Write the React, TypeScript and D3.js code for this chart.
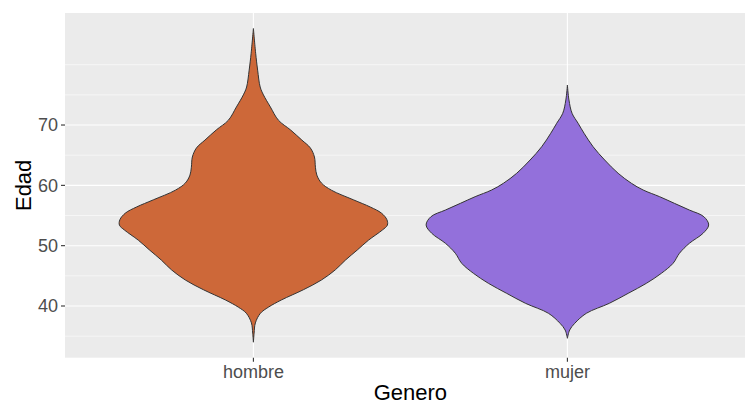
import React from "react";
import * as d3 from "d3";

const categories = ["hombre", "mujer"];
const fills = ["#CD6839", "#9370DB"];
const yTicks = [40, 50, 60, 70];
const yMinor = [35, 45, 55, 65, 75, 80];

// relative density (half-width as a fraction of the widest violin) by age
const hombreAge = [86.0, 81.9, 79.1, 76.3, 75.0, 73.0, 70.8, 69.2, 67.5, 66.2, 64.7, 63.0, 61.7, 60.4, 59.2, 57.6, 56.4, 55.4, 54.3, 53.4, 52.6, 50.9, 49.3, 47.6, 46.0, 44.3, 42.7, 41.0, 39.8, 38.8, 37.2, 35.5, 34.0];
const hombreDens = [0, 0.016, 0.030, 0.048, 0.071, 0.120, 0.177, 0.262, 0.343, 0.403, 0.432, 0.439, 0.449, 0.481, 0.552, 0.708, 0.828, 0.906, 0.945, 0.948, 0.913, 0.814, 0.736, 0.651, 0.580, 0.481, 0.354, 0.198, 0.106, 0.050, 0.014, 0.005, 0];
const mujerAge = [76.63, 74.15, 71.94, 70.28, 68.63, 66.40, 64.20, 62.0, 60.34, 59.23, 58.12, 57.02, 55.91, 54.80, 53.43, 52.05, 50.39, 48.74, 47.08, 45.42, 43.76, 42.10, 40.45, 38.79, 37.13, 36.02, 34.65];
const mujerDens = [0, 0.011, 0.033, 0.076, 0.118, 0.182, 0.264, 0.359, 0.453, 0.536, 0.653, 0.757, 0.863, 0.966, 1.0, 0.960, 0.863, 0.793, 0.748, 0.665, 0.559, 0.430, 0.297, 0.134, 0.052, 0.016, 0];

const W = 745;
const H = 403;
const panel = { left: 65, top: 13, bottom: 357.7, right: 745 };
const font = "'Liberation Sans', Arial, Helvetica, sans-serif";

export default function App() {
  const x = d3.scaleLinear().domain([0.4, 2.6]).range([65, 755.8]);
  const y = d3.scaleLinear().domain([31.43, 88.57]).range([panel.bottom, panel.top]);
  const unit = x(2) - x(1);
  const maxHW = 0.45 * unit;

  const series = [
    { age: hombreAge, dens: hombreDens },
    { age: mujerAge, dens: mujerDens },
  ];

  const violins = series.map((s, i) => {
    const cx = x(i + 1);
    const pts = s.age.map((a, j) => ({ a, d: s.dens[j] }));
    const area = d3
      .area<{ a: number; d: number }>()
      .y((p) => y(p.a))
      .x0((p) => cx - p.d * maxHW)
      .x1((p) => cx + p.d * maxHW)
      .curve(d3.curveCatmullRom.alpha(0.5));
    return area(pts) || "";
  });

  return (
    <svg
      width={W}
      height={H}
      style={{ position: "absolute", left: 0, top: 0, display: "block", background: "#fff" }}
    >
      <rect
        x={panel.left}
        y={panel.top}
        width={panel.right - panel.left}
        height={panel.bottom - panel.top}
        fill="#EBEBEB"
      />
      {yMinor.map((v) => (
        <line key={"mn" + v} x1={panel.left} x2={panel.right} y1={y(v)} y2={y(v)} stroke="#fff" strokeWidth={0.55} />
      ))}
      {yTicks.map((v) => (
        <line key={"mj" + v} x1={panel.left} x2={panel.right} y1={y(v)} y2={y(v)} stroke="#fff" strokeWidth={1.1} />
      ))}
      {categories.map((c, i) => (
        <line key={"vx" + c} x1={x(i + 1)} x2={x(i + 1)} y1={panel.top} y2={panel.bottom} stroke="#fff" strokeWidth={1.1} />
      ))}
      {violins.map((d, i) => (
        <path key={"v" + i} d={d} fill={fills[i]} stroke="#333333" strokeWidth={1.0} />
      ))}
      {yTicks.map((v) => (
        <g key={"yt" + v}>
          <line x1={panel.left - 4} x2={panel.left} y1={y(v)} y2={y(v)} stroke="#333333" strokeWidth={1.1} />
          <text
            x={panel.left - 7}
            y={y(v)}
            dy="0.35em"
            textAnchor="end"
            fontFamily={font}
            fontSize={18}
            fill="#4D4D4D"
          >
            {v}
          </text>
        </g>
      ))}
      {categories.map((c, i) => (
        <g key={"xt" + c}>
          <line x1={x(i + 1)} x2={x(i + 1)} y1={panel.bottom} y2={panel.bottom + 4} stroke="#333333" strokeWidth={1.1} />
          <text x={x(i + 1)} y={377.5} textAnchor="middle" fontFamily={font} fontSize={18} fill="#4D4D4D">
            {c}
          </text>
        </g>
      ))}
      <text x={(x(0.4) + x(2.6)) / 2} y={399.5} textAnchor="middle" fontFamily={font} fontSize={22} fill="#000">
        Genero
      </text>
      <text
        transform={`translate(30.5, ${(panel.top + panel.bottom) / 2}) rotate(-90)`}
        textAnchor="middle"
        fontFamily={font}
        fontSize={22}
        fill="#000"
      >
        Edad
      </text>
    </svg>
  );
}
